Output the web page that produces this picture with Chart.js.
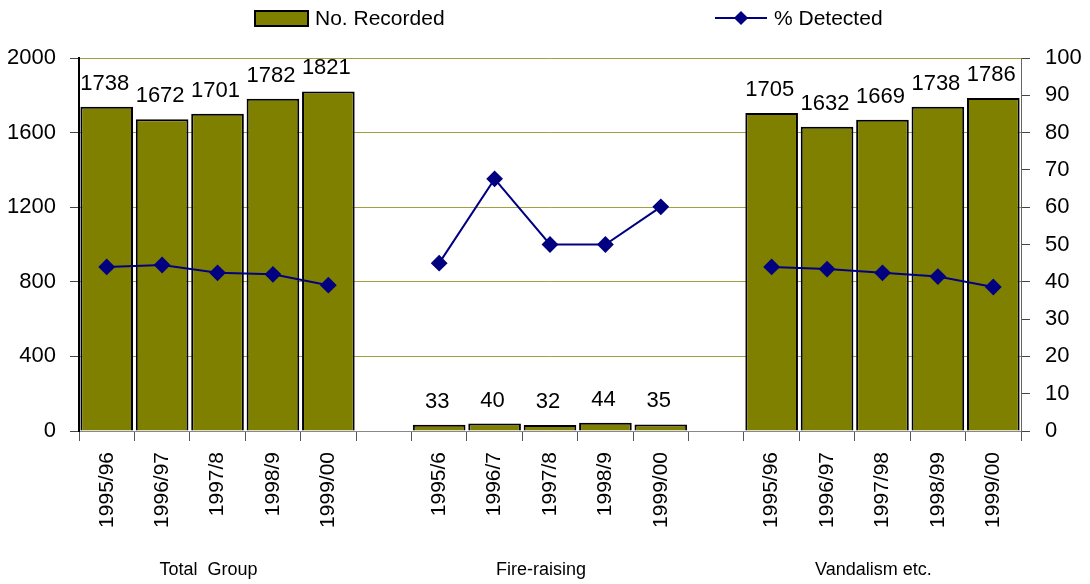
<!DOCTYPE html>
<html>
<head>
<meta charset="utf-8">
<script src="https://cdn.jsdelivr.net/npm/chart.js@4.4.1/dist/chart.umd.min.js"></script>
<style>
  html, body { margin: 0; padding: 0; background: #fff; }
  #wrap { position: relative; width: 1090px; height: 584px; }
  #legend { position: absolute; top: 0; left: 0; width: 1090px; height: 40px;
    font-family: 'Liberation Sans', Arial, sans-serif; font-size: 21px; color: #000; }
  .lg-item { position: absolute; top: 4px; height: 28px; line-height: 28px; white-space: nowrap; }
  .lg-box { position: absolute; top: 6px; left: 0; width: 51px; height: 13px; background: #808000; border: 2px solid #000; }
  .lg-line { position: absolute; top: 13px; left: 0; width: 52px; height: 2px; background: #000080; }
  .lg-diamond { position: absolute; top: 9px; left: 21px; width: 10px; height: 10px; background: #000080; transform: rotate(45deg); }
</style>
</head>
<body>
<div id="wrap">
  <canvas id="chart" width="1090" height="584"></canvas>
  <div id="legend">
    <div class="lg-item" style="left:254px"><span class="lg-box"></span><span style="margin-left:61px">No. Recorded</span></div>
    <div class="lg-item" style="left:715px"><span class="lg-line"></span><span class="lg-diamond"></span><span style="margin-left:59px">% Detected</span></div>
  </div>
</div>
<script>
// categorias: três grupos de 5 anos, com uma coluna vazia entre eles
const categories = [
  '1995/96', '1996/97', '1997/8', '1998/9', '1999/00', '',
  '1995/6', '1996/7', '1997/8', '1998/9', '1999/00', '',
  '1995/96', '1996/97', '1997/98', '1998/99', '1999/00'
];
const recorded = [1738, 1672, 1701, 1782, 1821, null, 33, 40, 32, 44, 35, null, 1705, 1632, 1669, 1738, 1786];
const detected = [44, 44.5, 42.4, 42, 39.1, null, 45, 67.6, 50, 50, 60.1, null, 44, 43.4, 42.4, 41.4, 38.6];
const groupNames = ['Total  Group', 'Fire-raising', 'Vandalism etc.'];
const groupCenterIndex = [2, 8, 14];
const leftTicks = [0, 400, 800, 1200, 1600, 2000];
const rightTicks = [0, 10, 20, 30, 40, 50, 60, 70, 80, 90, 100];

const FONT = "'Liberation Sans', Arial, sans-serif";

const barValueLabels = {
  id: 'barValueLabels',
  afterDatasetsDraw(chart) {
    const { ctx } = chart;
    const meta = chart.getDatasetMeta(1);
    ctx.save();
    ctx.font = `22px ${FONT}`;
    ctx.fillStyle = '#000';
    ctx.textAlign = 'center';
    ctx.textBaseline = 'alphabetic';
    meta.data.forEach((bar, i) => {
      if (recorded[i] == null) return;
      ctx.fillText(String(recorded[i]), bar.x - 2, bar.y - 17);
    });
    ctx.restore();
  }
};

const groupLabels = {
  id: 'groupLabels',
  afterDraw(chart) {
    const { ctx } = chart;
    const x = chart.scales.x;
    ctx.save();
    ctx.font = `18px ${FONT}`;
    ctx.fillStyle = '#000';
    ctx.textAlign = 'center';
    ctx.textBaseline = 'middle';
    groupNames.forEach((name, g) => {
      ctx.fillText(name, x.getPixelForValue(groupCenterIndex[g]) - 9, 570);
    });
    ctx.restore();
  }
};

new Chart(document.getElementById('chart'), {
  data: {
    labels: categories,
    datasets: [
      {
        type: 'line', label: '% Detected', data: detected, yAxisID: 'y1', order: 0,
        borderColor: '#000080', backgroundColor: '#000080', borderWidth: 2,
        pointStyle: 'rectRot', pointRadius: 7, pointHoverRadius: 7, spanGaps: false, tension: 0
      },
      {
        type: 'bar', label: 'No. Recorded', data: recorded, yAxisID: 'y', order: 1,
        backgroundColor: '#808000', borderColor: '#000', borderWidth: 2,
        barPercentage: 0.95, categoryPercentage: 1
      }
    ]
  },
  options: {
    responsive: false,
    animation: false,
    layout: { padding: { top: 58, left: 0, right: 0, bottom: 0 } },
    plugins: { legend: { display: false }, tooltip: { enabled: false } },
    scales: {
      x: {
        offset: true,
        grid: { offset: true, drawOnChartArea: false, drawTicks: true, tickLength: 10, tickColor: '#555', lineWidth: 1 },
        border: { color: '#888', width: 1 },
        ticks: { color: '#000', font: { family: FONT, size: 21 }, minRotation: 90, maxRotation: 90, padding: 11, autoSkip: false },
        afterFit: s => { s.height = 153; }
      },
      y: {
        position: 'left', min: 0, max: 2000,
        afterBuildTicks: s => { s.ticks = leftTicks.map(v => ({ value: v })); },
        grid: { color: 'rgba(128,128,0,0.75)', tickColor: '#444', tickLength: 9, lineWidth: 1 },
        border: { color: '#000', width: 2 },
        ticks: { color: '#000', font: { family: FONT, size: 22 }, padding: 14, callback: v => String(v) },
        afterFit: s => { s.width = 79; }
      },
      y1: {
        position: 'right', min: 0, max: 100,
        afterBuildTicks: s => { s.ticks = rightTicks.map(v => ({ value: v })); },
        grid: { drawOnChartArea: false, tickColor: '#444', tickLength: 9 },
        border: { color: '#666', width: 1 },
        ticks: { color: '#000', font: { family: FONT, size: 22 }, padding: 15, callback: v => String(v) },
        afterFit: s => { s.width = 69; }
      }
    }
  },
  plugins: [barValueLabels, groupLabels]
});
</script>
</body>
</html>
